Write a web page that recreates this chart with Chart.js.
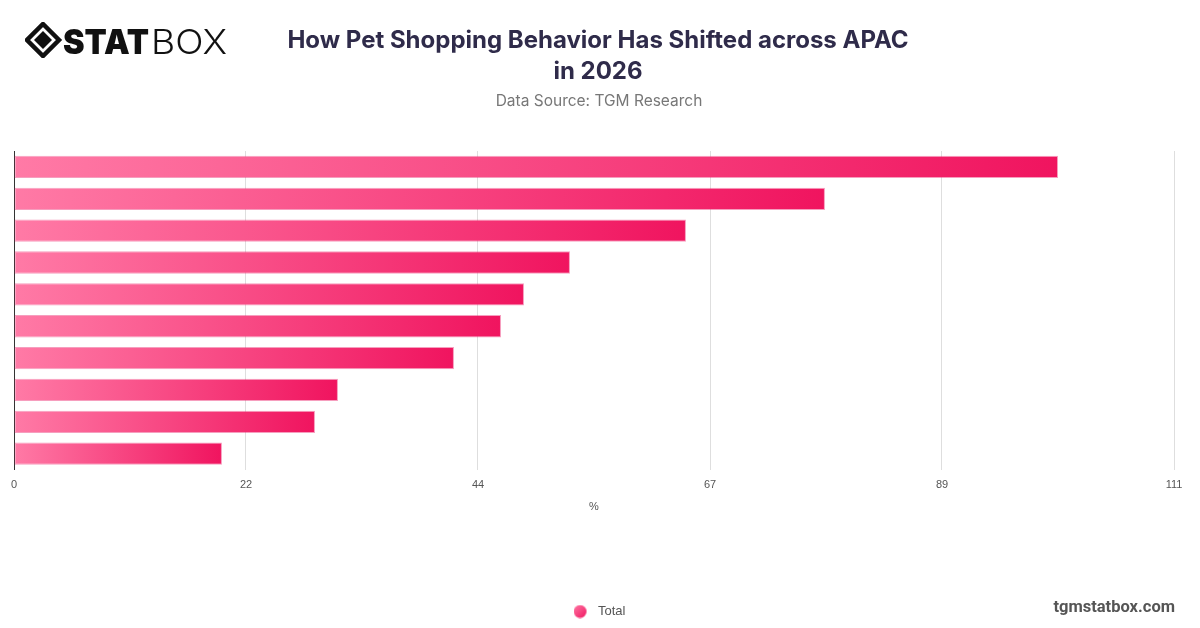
<!DOCTYPE html>
<html>
<head>
<meta charset="utf-8">
<script src="https://cdn.jsdelivr.net/npm/chart.js@4"></script>
<style>
  html, body { margin: 0; padding: 0; background: #fff; }
  body { width: 1200px; height: 628px; position: relative; overflow: hidden; font-family: Inter, "Noto Sans", sans-serif; }
  #logo { position: absolute; left: 25px; top: 22px; }
  #title { position: absolute; left: 0; width: 1196px; top: 24px; text-align: center; font-weight: 700; font-size: 24px; line-height: 31px; color: #2f2b4a; }
  #subtitle { position: absolute; left: 0; width: 1198px; top: 91px; text-align: center; font-size: 15.5px; color: #777; }
  #site { position: absolute; right: 25px; top: 597px; font-family: Roboto, sans-serif; font-weight: 700; font-size: 16.5px; color: #555; }
  #wrap { position: absolute; left: 0; top: 0; width: 1200px; height: 628px; }
</style>
</head>
<body>
<div id="wrap"><canvas id="chart"></canvas></div>
<svg id="logo" width="210" height="36" viewBox="0 0 210 36">
  <polygon points="18,2 34,18 18,34 2,18" fill="none" stroke="#111" stroke-width="4.5"/>
  <polygon points="18,9 27,18 18,27 9,18" fill="#111"/>
  <text x="38" y="32" font-family="Inter" font-weight="900" font-size="34" textLength="86" lengthAdjust="spacingAndGlyphs" fill="#111">STAT</text>
  <text x="126" y="32" font-family="Inter" font-weight="300" font-size="34" textLength="76" lengthAdjust="spacingAndGlyphs" fill="#111">BOX</text>
</svg>
<div id="title">How Pet Shopping Behavior Has Shifted across APAC<br>in 2026</div>
<div id="subtitle">Data Source: TGM Research</div>
<div id="site">tgmstatbox.com</div>
<script>
// Categories are not printed on the chart, so they are just ranks
const categories = ['1', '2', '3', '4', '5', '6', '7', '8', '9', '10'];
const totalValues = [99.9, 77.6, 64.3, 53.2, 48.8, 46.6, 42.1, 31.0, 28.8, 19.9];
const tickValues = [0, 22.2, 44.4, 66.6, 88.8, 111];
const tickLabels = ['0', '22', '44', '67', '89', '111'];

// Gradient that runs across each bar from its base to its end
function barGradient(context) {
    const chart = context.chart;
    const { chartArea, scales } = chart;
    if (!chartArea || !scales.x) return '#f5307a';
    const x0 = scales.x.getPixelForValue(0);
    const x1 = scales.x.getPixelForValue(context.raw);
    const g = chart.ctx.createLinearGradient(x0, 0, Math.max(x1, x0 + 1), 0);
    g.addColorStop(0, '#ff7aa6');
    g.addColorStop(1, '#f0145f');
    return g;
}

// Legend marker: small gradient dot, drawn off-centre so the text sits further right
const legendDot = document.createElement('canvas');
legendDot.width = 23;
legendDot.height = 14;
(function () {
    const c = legendDot.getContext('2d');
    const g = c.createLinearGradient(0, 0, 13, 14);
    g.addColorStop(0, '#ff7aa6');
    g.addColorStop(1, '#f0145f');
    c.fillStyle = g;
    c.beginPath();
    c.arc(6.5, 7, 6.5, 0, Math.PI * 2);
    c.fill();
})();

// Legend is centred on the page, not on the plot area
const legendShift = {
    id: 'legendShift',
    afterLayout(chart) {
        chart.legend.left += 8;
        chart.legend.right += 8;
    },
};

const ctx = document.getElementById('chart').getContext('2d');
new Chart(ctx, {
    type: 'bar',
    data: {
        labels: categories,
        datasets: [
            {
                label: 'Total',
                data: totalValues,
                backgroundColor: barGradient,
                borderColor: 'rgba(236, 40, 110, 0.45)',
                borderWidth: 1,
                borderSkipped: false,
                barPercentage: 0.7,
                categoryPercentage: 1,
            },
        ],
    },
    plugins: [legendShift],
    options: {
        indexAxis: 'y',
        responsive: true,
        maintainAspectRatio: false,
        animation: false,
        layout: { padding: { top: 151, left: 14, right: 26, bottom: 0 } },
        plugins: {
            legend: {
                display: true,
                position: 'bottom',
                labels: {
                    usePointStyle: true,
                    boxWidth: 13,
                    boxHeight: 13,
                    padding: 10,
                    color: '#555',
                    font: { family: 'Liberation Sans', size: 13 },
                    generateLabels: (chart) => [{
                        text: 'Total',
                        fillStyle: '#f7447f',
                        strokeStyle: '#f7447f',
                        lineWidth: 0,
                        pointStyle: legendDot,
                        datasetIndex: 0,
                        fontColor: '#555',
                    }],
                },
            },
            tooltip: { enabled: true },
        },
        scales: {
            x: {
                min: 0,
                max: 111,
                afterBuildTicks: (axis) => {
                    axis.ticks = tickValues.map(v => ({ value: v }));
                },
                ticks: {
                    padding: 9,
                    color: '#555',
                    font: { family: 'Liberation Sans', size: 11 },
                    callback: (value, index) => tickLabels[index],
                },
                grid: { display: true, color: '#dedede', drawTicks: false },
                border: { display: false },
                title: {
                    display: true,
                    text: '%',
                    color: '#555',
                    font: { family: 'Liberation Sans', size: 11 },
                    padding: { top: 0, bottom: 81 },
                },
            },
            y: {
                ticks: { display: false },
                grid: { display: false, drawTicks: false },
                border: { display: true, color: '#333', width: 1 },
            },
        },
    },
});
</script>
</body>
</html>
